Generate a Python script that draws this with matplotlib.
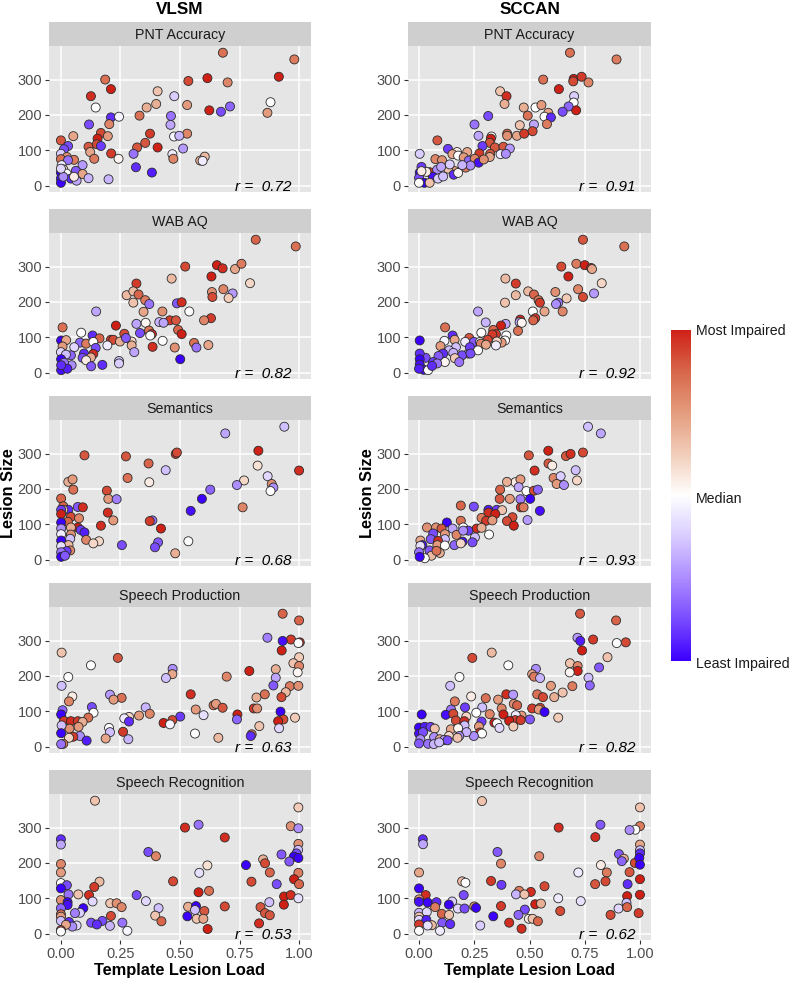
import numpy as np
import matplotlib
matplotlib.use('Agg')
import matplotlib.pyplot as plt
from matplotlib.colors import LinearSegmentedColormap

plt.rcParams['font.family'] = ['Liberation Sans', 'DejaVu Sans']

# values: x = template lesion load, y = lesion size, c = impairment (-1 least, 1 most)
vlsm_pnt_x = [.68,.98,.915,.186,.535,.615,.70,.21,.406,.126,.476,.88,.146,.40,.36,.867,.53,.623,.672,.71,.33,.21,.244,.462,.118,.46,.203,.168,.374,.53,.154,.197,.052,.475,.497,0,.03,.013,.116,.151,.168,.32,.354,.406,.513,.123,.211,.305,.468,0,.025,.472,.604,.055,.14,.242,.585,.595,0,.03,.091,.315,.003,.01,.063,0,.382,.091,.024,.042,.116,.20,.066,.055,0,0,.01,0]
vlsm_pnt_y = [376,357,308,300,296,304,292,273,267,253,253,236,221,231,221,206,228,213,209,224,198,193,195,197,173,172,174,149,147,147,133,140,140,139,141,128,112,103,110,117,112,108,121,108,105,95,91,90,89,90,81,76,82,73,76,76,71,70,75,72,58,52,58,46,42,37,37,33,34,20,21,18,14,25,20,8,25,48]
vlsm_pnt_c = [.7,.65,1,.7,.85,1,.6,1,.3,.95,-.25,0,0,.4,.4,.5,.5,1,-.75,-.65,.7,-.85,-.05,-.6,-.75,-.4,.6,.85,.9,.6,1,.5,.45,-.05,-.35,.8,-.75,-.75,.8,.85,-.8,.8,.8,1,-.45,.45,.9,-.6,-.1,-.25,.55,.6,.35,.65,.65,.05,.4,-.1,.7,-.6,-.45,-.85,-.1,.15,-.7,-1,-.9,.45,0,-.85,-.35,-.35,-.4,.1,-.95,-1,-.5,-.2]

sccan_pnt_x = [.683,.894,.562,.70,.736,.698,.767,.633,.367,.396,.702,.387,.70,.474,.527,.554,.585,.711,.677,.65,.492,.313,.568,.597,.251,.456,.52,.579,.269,.399,.399,.443,.476,.514,.328,.325,.083,.32,.131,.003,.287,.343,.382,.411,.172,.218,.151,.177,.273,.322,.369,.393,.074,.104,.202,.225,.252,.32,.27,.293,.211,.233,.162,.131,.139,.011,.048,.003,.082,.1,.063,.033,0,.024,0,.048,.086,.109,.157,.011,.177,.196]
sccan_pnt_y = [376,357,300,302,308,295,292,273,267,253,253,231,235,221,221,228,206,213,224,209,198,197,195,193,173,171,173,174,141,147,141,141,147,154,139,133,128,121,104,90,112,108,110,105,95,95,89,85,91,90,89,90,75,72,80,71,76,81,65,74,51,57,41,48,60,53,38,37,45,53,25,39,22,8,8,8,20,26,31,41,36,58]
sccan_pnt_c = [.7,.65,.7,1,.9,.85,.6,1,.3,.95,-.25,.4,0,.4,0,.5,.45,1,-.65,-.75,.7,-.75,0,-.85,-.6,.3,-.4,.65,-.4,.75,.55,.45,.9,.85,0,1,.8,.8,-.8,-.25,-.8,.8,.8,-.45,.1,.45,.45,0,.9,.8,-.1,-.5,.6,.55,.5,-.65,.6,.45,-.95,.55,.65,-.5,.5,.3,-.25,-.8,.9,-1,-.5,-.4,-.95,.1,-.75,-1,0,.3,-.25,-.3,-.85,.1,.05,-.35]

vlsm_wab_x = [.818,.986,.522,.655,.679,.731,.758,.632,.465,.794,.317,.634,.682,.721,.276,.304,.326,.636,.704,.354,.304,.371,.487,.507,.148,.347,.426,.539,.231,.63,.601,.457,.483,.317,.356,.413,.431,.007,.266,.085,.492,.37,.332,.382,.375,.507,.133,.162,.21,.22,.248,.427,.297,.273,.001,.022,.08,.106,.136,.559,.619,.195,.297,.385,.478,.569,.146,.007,.056,.308,.136,.097,0,.042,.091,.126,.021,.001,.106,.501,.244,.244,.174,.127,.045,.013,.001,.027,.001]
vlsm_wab_y = [376,357,300,304,295,293,308,272,266,253,252,228,236,224,219,230,221,214,211,205,198,194,196,199,173,172,173,173,133,154,148,148,148,138,141,143,141,128,110,113,121,119,112,109,105,109,105,97,93,93,88,90,88,98,91,92,85,82,87,84,78,77,77,73,71,71,70,74,72,58,53,54,58,49,42,43,51,38,35,38,33,26,22,18,21,28,7,11,21]
vlsm_wab_c = [.75,.7,.85,1,.95,.45,.65,1,.35,.2,.9,.55,.6,-.45,.35,.35,.75,.85,.25,.65,.3,-.6,-.7,.95,-.4,.45,.55,0,1,.9,.6,.9,.8,-.4,.05,-.35,-.4,.7,.85,0,.75,.7,-.75,.95,0,1,-.85,.75,.9,.85,.4,0,.2,-.7,-1,.45,-.65,.65,0,.7,.45,-.1,.4,.95,.55,-.6,-.75,.5,-.2,-.4,.95,-.85,-.2,-.65,-.75,.4,-.3,-1,.1,-1,-.3,-.25,-.85,-.7,-.5,-.6,-.95,-.9,-.85]

sccan_wab_x = [.742,.929,.644,.712,.75,.779,.783,.676,.391,.827,.438,.494,.52,.617,.72,.792,.438,.742,.668,.541,.547,.389,.63,.62,.267,.515,.568,.65,.302,.458,.455,.465,.526,.517,.392,.371,.118,.336,.448,.282,.152,.348,.332,.395,.227,.161,.115,.311,.209,.248,.276,.389,.374,.352,.097,.003,.28,.303,.348,.167,.136,.223,.155,.23,.267,.195,.233,.109,.162,.182,.117,.088,.03,.003,.003,.064,.082,.003,.021,.041,.059,0]
sccan_wab_y = [376,357,300,308,304,296,293,272,266,253,252,230,221,228,236,224,219,214,210,205,198,198,198,194,173,173,173,173,142,150,143,141,154,148,138,133,128,121,118,113,105,109,108,105,98,93,90,93,87,87,87,91,85,88,75,91,82,79,77,72,63,54,56,72,63,49,54,54,41,30,30,47,42,54,38,30,26,23,8,7,19,11]
sccan_wab_c = [.8,.7,.85,.65,1,.95,.45,1,.35,.2,.9,.35,.75,.55,.6,-.45,.35,.85,.25,.65,.9,.3,-.6,-.5,-.4,0,.45,.6,-.35,.95,-.4,.05,.9,.75,-.4,1,.7,.75,.7,0,-.85,.9,.9,0,.8,.45,-.05,.85,-.1,-.7,.1,0,.5,.2,.5,-1,.6,.45,-.1,-.3,-.3,-.5,-.35,-.8,0,-.75,-.75,-.85,.25,-.6,.05,-.7,-.75,-.85,-1,-.8,-.6,-.95,-.95,0,-.85,-.9]

vlsm_sem_x = [.938,.69,.099,.273,.482,.487,.829,.368,.826,1.0,.44,.868,.28,.031,.049,.769,.371,.885,.739,.892,.88,.627,.052,.193,.592,.199,.234,.001,.01,.071,.092,.031,.01,.001,.763,.545,.197,.001,.042,.076,.384,.373,.22,.029,.001,.168,.071,.042,.001,.42,.083,.099,.001,.042,.039,.106,.16,.136,.535,.408,.001,.032,.256,.395,.001,.039,.48,.024,.001,.001,.017]
vlsm_sem_y = [376,357,295,292,299,303,308,272,266,252,253,236,231,220,227,224,219,214,211,204,194,198,198,195,172,172,171,173,151,149,148,141,141,141,148,138,133,129,121,117,111,109,111,107,105,96,91,91,88,88,84,77,72,71,59,56,52,46,52,49,54,41,41,35,38,26,18,24,21,8,11]
vlsm_sem_c = [-.3,-.4,.8,.8,.9,.85,1,.75,.15,.95,-.3,-.2,.7,.4,.5,.2,.1,.55,-.5,-.5,0,-.65,.7,.85,-1,.5,-.55,.75,.75,-.7,.95,-.85,.3,-.8,.6,-.95,.95,1,.85,.6,-.6,.9,.5,.75,-1,.95,1,.4,-.5,1,-.8,-.9,-.1,.55,-.3,.6,.2,.2,0,-.7,-1,.35,-.75,-.75,-.15,.6,.4,-.8,-.6,-1,-.7]

sccan_sem_x = [.765,.823,.497,.585,.665,.686,.742,.586,.603,.523,.709,.609,.641,.715,.436,.459,.398,.623,.656,.451,.367,.486,.52,.538,.365,.411,.459,.503,.189,.248,.314,.352,.376,.461,.473,.547,.314,.345,.283,.423,.304,.332,.189,.126,.398,.491,.429,.036,.077,.102,.261,.283,.2,.152,.223,.064,.117,.17,.2,.317,.253,.006,.053,.117,.086,.197,.242,.16,.189,.083,.117,.015,.006,.047,.094,.056,0,.079,.026,.003]
sccan_sem_y = [376,357,295,308,293,299,303,272,266,252,253,231,236,224,219,227,220,214,211,205,198,194,195,198,172,172,171,172,153,150,141,141,140,148,148,138,133,129,118,120,110,111,110,105,109,112,96,91,91,88,88,90,91,88,82,74,72,70,82,71,63,54,58,58,53,51,49,41,46,41,40,41,39,26,19,11,21,25,4,8]
sccan_sem_c = [-.3,-.4,.8,1,.8,.95,.85,.8,.1,.95,-.3,.6,-.25,.2,.1,.5,.4,.5,-.5,-.4,.75,0,.85,-.65,.8,.5,-.55,-1,.75,-.75,-.9,-.8,.3,.9,.65,-.95,.95,1,.65,.85,.9,.5,.7,-1,.85,-.45,1,.55,.55,.8,.95,.4,0,-.4,-.8,-.75,.5,.6,-.5,0,-.3,.45,-.7,-.3,.95,-.95,-.75,-.65,.2,.5,0,-.95,-.15,-.7,.4,.35,-.6,.7,0,-1]

vlsm_prod_x = [.931,1.0,.867,.966,.931,1.003,.997,.927,.003,.239,1.0,.126,.976,1.0,.902,.469,.791,.468,.441,.994,.031,.902,.696,.003,.892,.961,.997,.944,.856,.545,.206,.048,.255,.221,.821,.926,.034,.641,.651,.679,.13,.356,.81,.824,.007,.566,.137,.922,.741,.001,.373,.328,.599,.286,.983,.266,.115,.739,.501,.468,.934,.286,.013,.042,.071,.091,.074,.431,.458,.912,.833,.916,.202,.036,.003,.261,.206,.001,.563,.801,.797,.08,.052,.034,.188,.108,.283,.661,.01,.001]
vlsm_prod_y = [376,357,308,303,299,295,293,272,266,251,253,230,236,228,219,220,214,205,194,210,197,195,198,172,173,171,172,154,148,148,147,142,138,133,139,140,128,117,121,110,112,111,108,108,103,105,96,99,91,91,93,88,89,84,82,80,82,77,85,75,77,71,73,72,72,70,56,67,63,72,58,52,53,51,60,42,41,38,37,35,30,30,28,25,23,17,21,25,8,7]
vlsm_prod_c = [.75,.75,-.55,.9,-.95,.95,0,1,.3,.8,.25,0,.3,.6,.4,-.5,1,.45,-.3,.05,0,-.4,.6,-.3,-.7,.65,.55,.35,.7,.95,-.45,.1,.7,.5,.4,.85,.6,.7,.5,.8,-.75,-.35,.9,.55,-.65,.5,0,-1,1,-1,.6,.5,-.15,.2,.25,-.1,.7,-.65,-.8,.85,.85,-.85,.9,.95,.9,.4,.5,1,-.05,1,.3,-.2,0,.55,-.3,.9,-.3,-1,0,.65,-.85,-.5,.9,.2,.45,-.9,-.35,.35,.65,-.6]

sccan_prod_x = [.729,.892,.788,.717,.73,.936,.895,.738,.329,.853,.241,.404,.683,.718,.815,.529,.718,.512,.682,.521,.183,.767,.548,.141,.597,.694,.773,.65,.395,.426,.535,.612,.561,.236,.302,.358,.162,.429,.444,.208,.286,.374,.512,.548,.145,.542,.568,.012,.121,.155,.259,.32,.464,.438,.382,.63,.214,.167,.283,.205,.502,.435,.46,.408,.341,.353,.427,.364,.206,.144,.271,.177,.276,.285,.248,.215,.182,.135,.174,0,.026,.052,.071,0,.018,.068,.094,.114,.129,.006,0,.041,.067,.091]
sccan_prod_y = [376,357,303,308,299,295,293,272,266,253,251,230,236,228,224,220,214,205,210,198,197,195,194,172,172,171,173,153,148,147,148,140,140,142,137,133,128,121,117,111,111,108,108,110,105,105,98,91,90,93,96,92,88,89,91,82,85,74,71,72,77,75,75,73,68,66,57,53,60,49,57,52,40,37,30,41,30,30,25,54,56,56,51,37,41,27,21,19,18,21,9,8,7,12]
sccan_prod_c = [.8,.75,.9,-.45,-.9,.85,0,1,.35,.3,.85,0,.3,.6,-.7,-.5,1,.45,.05,.65,0,-.3,-.35,-.3,.5,.65,-.65,.3,.95,-.45,.7,.4,.85,.1,.7,.5,.65,.55,.75,-.8,-.3,.6,.9,.85,-.6,.5,-1,-1,-.95,.85,0,.6,.5,-.1,1,.25,.2,.85,-.8,.95,-.7,.9,.9,1,1,0,.25,-.2,-.3,.45,.5,.05,.9,0,-.5,-.35,-.5,.2,.3,-1,-.9,-.8,.3,-.95,-.75,-.5,.4,-.4,-.75,-.5,-.7,-.6,-.35,-.3]

vlsm_rec_x = [.143,.997,.521,.578,.965,.997,0,0,.688,.997,.996,.367,.399,.926,.989,.978,.997,.959,.849,.857,.777,0,.615,0,.877,.997,.581,0,.162,.025,.471,.979,.8,.14,0,.906,1,.622,.578,.318,.073,.118,.032,.937,.965,.997,.133,.357,0,.028,.207,.234,.875,.936,.838,.255,.534,.567,.688,.028,.41,.094,0,.857,.877,.602,.08,.059,0,0,.21,.396,.531,.563,.57,.598,0,.034,.174,.832,.422,.127,.151,.258,.206,.066,.048,.021,.616,.279,0,0]
vlsm_rec_y = [376,357,300,308,304,298,267,252,272,254,237,231,219,224,227,218,214,204,210,199,194,197,193,173,173,172,172,143,147,137,148,154,147,132,128,140,140,121,117,109,111,109,111,105,109,100,91,92,95,89,86,86,89,82,75,75,76,78,77,81,72,72,72,58,52,64,59,58,55,48,50,51,49,67,42,42,36,33,36,29,35,31,26,31,22,23,20,25,13,8,10,6]
vlsm_rec_c = [.3,.25,.95,-.6,.55,-.5,-.85,-.4,.95,.55,-.3,-.75,.6,-.7,-.75,-1,-1,-.7,.4,.85,-1,.6,.15,.5,.75,.65,-.15,0,.35,-.75,.85,1,.85,.9,-1,-.75,.75,.7,1,-.75,.3,.95,-.6,1,.95,-.15,-.2,-.2,.55,-1,.3,.55,-.3,1,.8,.6,.4,-1,.85,-.95,-.3,-1,-.65,.8,.8,.8,-.25,-.55,.7,.5,.85,.3,-1,-.3,.3,.45,-.3,-.85,-.75,.95,.75,-.75,-.85,-.6,-.35,-.2,-.5,.45,1,-.05,.9,0]

sccan_rec_x = [.285,1.0,.632,1,.821,.979,.953,.798,.017,.018,1,.355,1,.544,.905,1,.927,.918,.371,.977,.997,1,.823,0,.721,.85,.953,.195,.21,.326,.844,1,.797,.373,.944,.568,0,.03,.202,.453,.506,.439,.477,0,.942,1,.63,0,.039,.079,.15,.732,.135,.176,.206,.25,.258,.073,.371,.526,.552,.939,.903,.942,0,.035,.103,.136,.479,.45,.639,.336,.867,.994,0,0,.033,.497,.514,.538,.105,.141,.408,0,.058,.039,.277,.464,.095,0]
sccan_rec_y = [375,357,300,304,308,294,293,273,267,253,252,231,236,219,225,227,212,205,198,200,214,195,194,173,173,173,174,148,144,149,148,154,140,138,140,134,128,109,109,121,118,111,111,97,106,110,100,90,88,89,91,92,82,71,71,77,73,75,78,83,85,87,71,75,59,61,56,53,68,53,64,49,53,58,48,39,39,42,42,35,31,27,31,26,24,23,23,14,8,8]
sccan_rec_c = [.3,.3,.95,.65,-.7,0,-.5,.95,-.85,-.4,.45,-.7,-.3,.6,-.7,-.85,.4,-.65,.6,.85,-1,-1,.1,.45,-.1,.65,.8,.35,0,.9,.85,1,.8,-.8,-.85,.85,-1,.95,-.75,.65,.95,-.35,.3,.5,1,1,-.1,-.95,-1,-.85,-.25,-.15,-1,-.2,-.75,.55,-1,.65,.9,1,.4,-.3,-.2,.75,-.35,-.2,.75,.3,-.75,-.65,.85,-1,.85,.9,.3,-.2,-.9,.1,.3,.75,-.7,-.85,.95,.9,.35,-.15,-.25,.95,-.1,0]

strip_labels = ['PNT Accuracy', 'WAB AQ', 'Semantics', 'Speech Production', 'Speech Recognition']
vlsm_r = ['0.72', '0.82', '0.68', '0.63', '0.53']
sccan_r = ['0.91', '0.92', '0.93', '0.82', '0.62']
x_ticks = [0, 0.25, 0.5, 0.75, 1]
x_ticklabels = ['0.00', '0.25', '0.50', '0.75', '1.00']
y_ticks = [0, 100, 200, 300]

vlsm_panels = [(vlsm_pnt_x, vlsm_pnt_y, vlsm_pnt_c), (vlsm_wab_x, vlsm_wab_y, vlsm_wab_c),
               (vlsm_sem_x, vlsm_sem_y, vlsm_sem_c), (vlsm_prod_x, vlsm_prod_y, vlsm_prod_c),
               (vlsm_rec_x, vlsm_rec_y, vlsm_rec_c)]
sccan_panels = [(sccan_pnt_x, sccan_pnt_y, sccan_pnt_c), (sccan_wab_x, sccan_wab_y, sccan_wab_c),
                (sccan_sem_x, sccan_sem_y, sccan_sem_c), (sccan_prod_x, sccan_prod_y, sccan_prod_c),
                (sccan_rec_x, sccan_rec_y, sccan_rec_c)]

cmap = LinearSegmentedColormap.from_list('impair', [
    (0.0, '#3C00FF'), (0.125, '#7A4CFF'), (0.25, '#AD8DFF'), (0.375, '#D9CDFF'), (0.5, '#FFFFFF'),
    (0.625, '#F2CDB9'), (0.75, '#E49C7E'), (0.875, '#D8664A'), (1.0, '#CF2016')])

W, H = 790, 981
fig = plt.figure(figsize=(W / 100, H / 100), dpi=100)


def px_axes(left, top, right, bottom):
    return fig.add_axes([left / W, 1 - bottom / H, (right - left) / W, (bottom - top) / H])


def draw_column(panels, rvals, left, right, title):
    for i in range(5):
        top = 22 + 187 * i
        strip = px_axes(left, top, right, top + 24)
        strip.set_facecolor('#CFCFCF')
        strip.set_xticks([])
        strip.set_yticks([])
        for s in strip.spines.values():
            s.set_visible(False)
        strip.text(0.5, 0.47, strip_labels[i], ha='center', va='center', fontsize=10.3,
                   color='#1A1A1A', transform=strip.transAxes)

        ax = px_axes(left, top + 24, right, top + 170)
        ax.set_facecolor('#E5E5E5')
        for s in ax.spines.values():
            s.set_visible(False)
        ax.grid(color='white', linewidth=1.1)
        ax.set_axisbelow(True)
        x, y, c = panels[i]
        ax.scatter(x, y, c=c, cmap=cmap, vmin=-1, vmax=1, s=42, edgecolors='#2B2B2B', linewidths=0.6,
                   clip_on=False, zorder=3)
        ax.set_xlim(-0.05, 1.05)
        ax.set_ylim(-18, 395)
        ax.set_yticks(y_ticks)
        ax.set_xticks(x_ticks)
        ax.tick_params(axis='y', labelsize=10.5, labelcolor='#4D4D4D', color='#333333', length=3, width=0.8, pad=2)
        if i == 4:
            ax.set_xticklabels(x_ticklabels)
            ax.tick_params(axis='x', labelsize=10.5, labelcolor='#4D4D4D', color='#333333', length=3, width=0.8, pad=2)
        else:
            ax.tick_params(axis='x', length=0, labelbottom=False)
        ax.text(0.85, -3, 'r =  ' + rvals[i], ha='center', va='center', fontsize=11, style='italic',
                color='black', zorder=4)

    centre = (left + right) / 2 / W
    fig.text(centre, 1 - 9 / H, title, ha='center', va='center', fontsize=12.3, fontweight='bold')
    fig.text(centre, 1 - 971 / H, 'Template Lesion Load', ha='center', va='center', fontsize=11.8, fontweight='bold')
    fig.text((left - 40) / W, 1 - 493 / H, 'Lesion Size', ha='center', va='center', rotation=90,
             fontsize=11.8, fontweight='bold')


draw_column(vlsm_panels, vlsm_r, 49, 311, 'VLSM')
draw_column(sccan_panels, sccan_r, 408, 651, 'SCCAN')

# colour bar
cax = px_axes(671, 330, 691, 661)
cax.imshow(np.linspace(1, -1, 256).reshape(-1, 1), cmap=cmap, vmin=-1, vmax=1, aspect='auto')
cax.axis('off')
fig.text(696 / W, 1 - 331 / H, 'Most Impaired', va='center', fontsize=10.2, color='#1A1A1A')
fig.text(696 / W, 1 - 499 / H, 'Median', va='center', fontsize=10.2, color='#1A1A1A')
fig.text(696 / W, 1 - 664 / H, 'Least Impaired', va='center', fontsize=10.2, color='#1A1A1A')

fig.savefig('out.png', dpi=100)
